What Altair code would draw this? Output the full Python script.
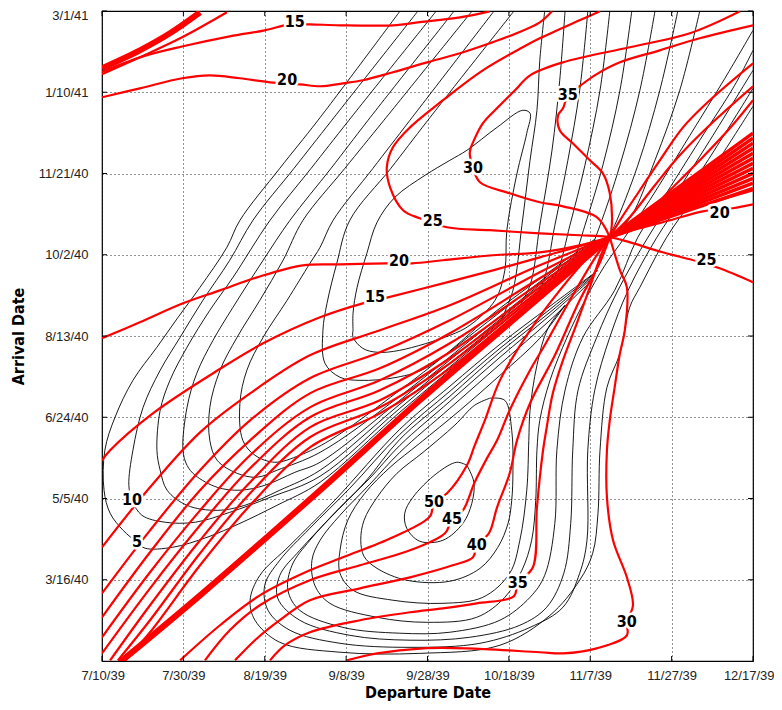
import json
import altair as alt
import pandas as pd

# ---------------- axis ticks (x: days from 7/10/39, y: days from 1/1/40) ----------------
X_TICKS = [0, 20, 40, 60, 80, 100, 120, 140, 160]
X_LABELS = ["7/10/39", "7/30/39", "8/19/39", "9/8/39", "9/28/39", "10/18/39", "11/7/39", "11/27/39", "12/17/39"]
Y_TICKS = [75, 125, 175, 225, 275, 325, 375, 425]
Y_LABELS = ["3/16/40", "5/5/40", "6/24/40", "8/13/40", "10/2/40", "11/21/40", "1/10/41", "3/1/41"]

F = [124.8, 285.8]  # singular point where the red contours meet

# ---------------- red contours ----------------
RED_TL_2 = [[0, 386.1], [9.3, 396.5], [19.7, 408.8], [30.7, 424.2]]
RED_15_TOP = [[0, 387.5], [10.1, 397.1], [19.9, 403.3], [31.4, 409.4], [40, 413.1], [46.2, 416.8], [51.1, 416.8],
              [58.5, 416.2], [71.5, 416.2], [78.1, 418.1], [88, 421.1], [95.3, 424.8]]
RED_20_TOP = [[0, 371.9], [9.3, 377.4], [19.7, 383.6], [26.5, 385.4], [33.9, 383.6], [41.3, 381.1], [48.6, 379.9],
              [53.6, 378.7], [59.2, 380.5], [64.1, 382.4], [71.5, 387.3], [79.9, 393.4], [88, 399], [95.3, 405.1],
              [101.9, 411.3], [107.6, 418], [110.6, 424.8]]
RED_25 = [[122.4, 424.8], [117.4, 419.3], [107.6, 408.2], [103.4, 402.7], [93.6, 388.5], [83.8, 370.1], [75.7, 353.4],
          [71.5, 341.1], [70, 328.8], [70.8, 316.5], [74, 302.4], [78.1, 297.4], [84.8, 291.9], [95.3, 290.1],
          [107.6, 288.2], [117.4, 287], F, [137.8, 276.5], [146.2, 271], [151.8, 266.7], [160, 258.1]]
RED_30 = [[156.8, 424.8], [144.5, 411.3], [129.7, 402.7], [113.3, 393.4], [105.2, 385.4], [101.5, 376.2], [97.8, 367],
          [93.6, 355.9], [91.4, 345.4], [90.4, 338.1], [91.2, 328.2], [92.9, 319.6], [100.2, 312.8], [107.6, 307.3],
          [113.3, 304.8], [121.6, 298.1], F]
RED_35 = [[160, 416.2], [146.9, 408.2], [137.1, 400.8], [127.3, 393.4], [121.1, 385.4], [117.4, 378.7], [114.5, 373.1],
          [113.3, 365.1], [112.1, 360.8], [112.5, 351.6], [115.7, 343.6], [119.9, 333.1], [123.1, 325.1],
          [124.8, 312.8], [125.3, 293.1], F]
RED_20 = [[0, 223.6], [9.3, 233.4], [19.9, 245.1], [29, 253.1], [38.1, 261.1], [49.4, 268.5], [58.5, 269.1], [70, 269.7],
          [76.2, 269.7], [83.8, 271.6], [96.1, 274.7], [107.6, 276.5], [117.4, 280.8], F, [132.2, 291.3],
          [139.6, 296.2], [147.7, 301.7], [155, 303.6], [160, 306]]
RED_15 = [[0, 148.5], [2, 154.7], [12.5, 177.4], [27.3, 202.1], [39.6, 220.5], [53.6, 236.5], [64.1, 245.1],
          [70.3, 248.8], [83.8, 257.4], [96.1, 265.4], [107.6, 273.4], F, [142, 301.1], [160, 314.7]]
RED_UP_A = [F, [127.3, 296.2], [132.2, 314.7], [137.1, 333.1], [142.8, 353.4], [149.4, 370.1], [160, 392.8]]
RED_UP_B = [F, [129.7, 298.1], [135.9, 317.8], [142, 336.2], [150.1, 356.5], [160, 378.7]]
RED_UP_C = [F, [132.2, 296.2], [139.6, 314.7], [146.9, 333.1], [154.3, 352.8], [160, 370.1]]
RED_U1 = [F, [107.6, 268.5], [85.5, 243.9], [68.3, 228.5], [51.1, 213.1], [36.4, 189.7], [24.1, 165.7], [11.8, 131.9], [0, 95]]
RED_U2 = [F, [107.6, 264.2], [85.5, 234.7], [68.3, 215], [51.1, 199], [36.4, 173.1], [24.1, 142.4], [11.8, 105.4], [0, 66.7]]
RED_U3 = [F, [107.6, 260.5], [85.5, 226.7], [68.3, 205.1], [51.1, 189.7], [36.4, 160.8], [24.1, 130.1], [11.8, 91.9], [0, 51.9]]
RED_U4 = [F, [107.6, 257.4], [85.5, 220.5], [68.3, 197.7], [51.1, 181.1], [36.4, 151.6], [24.1, 117.7], [11.8, 79.6], [0, 39.6]]
RED_U5 = [F, [107.6, 255], [85.5, 215], [68.3, 191.6], [51.1, 175], [36.4, 143.6], [24.1, 108.5], [11.8, 69.7], [0, 29.7]]
RED_U6 = [F, [107.6, 253.1], [85.5, 211.3], [68.3, 185.4], [51.1, 168.8], [36.4, 135], [24.1, 99.3], [11.8, 59.3], [2, 25.4]]
RED_U7 = [F, [107.6, 251.9], [85.5, 208.2], [68.3, 181.1], [51.1, 162.7], [36.4, 128.2], [24.1, 91.3], [11.8, 50.1], [3.9, 25.4]]
RED_U8 = [F, [107.6, 250.7], [85.5, 205.1], [68.3, 177.4], [51.1, 156.5], [36.4, 120.8], [24.1, 83.9], [11.8, 42.7], [5.7, 25.4]]
RED_50 = [F, [119.9, 274.7], [112.5, 253.1], [105.2, 228.5], [97.8, 197.7], [94.1, 173.1], [91.6, 157.7], [89.7, 145.4],
          [84.8, 128.2], [81.6, 122.7], [80.6, 114], [71.5, 101.1], [59.2, 88.8], [51.1, 80.8], [38.8, 65.4], [29, 47], [19.2, 25.4]]
RED_45 = [F, [121.1, 272.8], [115, 247], [108.8, 219.3], [105.2, 203.9], [100.2, 179.3], [97.1, 160.8], [94.6, 149.7],
          [91.6, 135], [88.7, 117.7], [86, 112.2], [84.3, 103.6], [75.7, 93.1], [63.4, 83.9], [51.1, 74.7], [38.8, 59.3],
          [31.4, 43.9], [25.3, 25.4]]
RED_40 = [F, [122.4, 270.4], [117.4, 247], [111.3, 213.1], [105.2, 183.6], [102, 160.8], [100.2, 140.5], [97.1, 119.6],
          [95.1, 103.6], [92.1, 96.2], [91.2, 88.8], [86.2, 83.9], [75.7, 76.5], [63.4, 69.7], [51.1, 62.4], [43.7, 50.1],
          [37.6, 37.8], [32.7, 25.4]]
RED_35_LOW = [F, [123.1, 277.7], [119.9, 255], [116.7, 232.8], [113.3, 210.1], [110.8, 189.7], [109.3, 168.8],
              [108.4, 154.7], [106.9, 119.6], [105.9, 82.7], [102.2, 72.8], [101.2, 64.8], [92.1, 60.5], [83.8, 57.4],
              [75.7, 55], [63.4, 50.1], [51.1, 42.7], [45, 34.7], [41.3, 25.4]]
RED_30_LOW = [F, [127.3, 265.4], [129, 255], [128.5, 228.5], [127.3, 214.4], [126, 193.4], [124.8, 173.1], [124.1, 154.7],
              [124.1, 125.7], [125.6, 99.3], [129, 76.5], [130.5, 59.3], [129, 48.8], [129, 40.8], [121.6, 32.8],
              [113.3, 29.7], [107.6, 30.4], [89.7, 32.8], [78.9, 32.8], [67.6, 29.7], [60.2, 25.4]]

RED_THICK_TL = [[0, 389.8], [9.3, 400.8], [16.7, 411.3], [24.1, 424.2]]
RED_THICK_BAND = [F, [107.6, 248.8], [78.1, 185.4], [53.6, 130.1], [24.1, 65.4], [4.4, 24.2]]
RED_WEDGE_END_Y = [349.8, 346.7, 343.6, 340.5, 337.5, 334.4, 331.3, 328.2, 325.1, 322.0, 319.0, 315.9]

# ---------------- black contours ----------------
BLK_A1 = [[73.2, 424.8], [53.1, 357.8], [43.7, 328.2], [33.9, 296.2], [30.7, 279.6], [24.1, 255], [18.7, 236.5],
          [13.5, 218.1], [7.6, 197.7], [3.2, 175], [0.7, 154.7], [0.5, 130.1], [2, 115.9], [5.2, 105.4], [8.6, 98.1],
          [10.6, 94.4], [17.4, 95], [25.8, 101.1], [33.9, 109.7], [43, 120.8], [53.6, 135], [73.2, 178.1],
          [97.8, 229.7], [121.1, 280.8]]
BLK_A2 = [[77.6, 424.8], [56.5, 357.8], [47.2, 328.2], [37.1, 296.2], [31.4, 271.6], [24.8, 247], [19.2, 224.2],
          [14.3, 203.9], [10.1, 181.1], [7.6, 154.7], [6.6, 133.1], [7.4, 123.9], [9.8, 114.7], [15.5, 110.4],
          [22.9, 110.4], [31.4, 116.5], [41.3, 125.7], [53.6, 138.7], [73.2, 180.5], [97.8, 231.6], [121.1, 281.4]]
BLK_A3 = [[82.1, 424.8], [60.7, 357.8], [51.4, 328.2], [41.3, 296.2], [32.2, 261.1], [26.5, 240.8], [20.9, 218.1],
          [16.7, 197.7], [14.3, 179.3], [13.5, 154.7], [14.3, 142.4], [16, 130.1], [20.9, 120.8], [28.3, 117.7],
          [35.1, 120.8], [43.7, 130.1], [53.6, 142.4], [73.2, 183], [97.8, 233.4], [121.1, 282.1]]
BLK_A4 = [[86.5, 424.8], [65.4, 357.8], [56.3, 328.2], [46.2, 296.2], [39.6, 271.6], [32.2, 242.7], [27.3, 222.4],
          [23.3, 202.1], [20.9, 181.1], [19.9, 154.7], [20.9, 145.4], [22.9, 139.3], [28.3, 131.9], [33.9, 130.1],
          [40, 133.1], [47.4, 141.1], [53.6, 147.3], [73.2, 185.4], [97.8, 235.3], [121.1, 282.7]]
BLK_A5 = [[90.9, 424.8], [69.3, 357.8], [59.7, 328.2], [49.4, 296.2], [44.5, 271.6], [38.8, 247], [33.2, 224.2],
          [29, 203.9], [26.5, 181.1], [26.5, 160.8], [28.3, 148.5], [33.2, 140.5], [38.1, 138.1], [43, 142.4],
          [53.6, 153.4], [73.2, 187.9], [97.8, 237.1], [121.1, 283.3]]
BLK_A6 = [[96.3, 424.8], [75.7, 357.8], [66.6, 328.2], [56.8, 296.2], [53.6, 279.6], [51.1, 269.7], [45.5, 247],
          [39.6, 224.2], [35.6, 203.9], [33.9, 183.6], [34.6, 160.8], [37.6, 151.6], [42.5, 147.3], [48.6, 151.6],
          [56, 160.8], [73.2, 191.6], [97.8, 239.6], [121.1, 283.9]]
BLK_A7 = [[101.2, 424.8], [80.1, 357.8], [71, 328.2], [60.9, 296.2], [57.7, 269.7], [55.3, 245.1], [54.3, 228.5],
          [54.8, 208.2], [58.5, 199.6], [63.4, 197.7], [72.5, 199.6], [79.9, 205.7], [97.8, 242.1], [121.1, 284.5]]
BLK_A8 = [[61.7, 228.5], [61.7, 239], [62.7, 255], [65.1, 275.9], [67.6, 295], [72, 310.4], [79.4, 323.9], [85.5, 333.1],
          [89.7, 339.3], [97.1, 353.4], [103.4, 363.9], [105.2, 362.1], [104.4, 349.8], [102, 325.1], [99.5, 290.1],
          [99, 265.4], [96.6, 247], [90.4, 231.6], [85.5, 225.4], [73.2, 216.2], [67.6, 215], [64.1, 217.4],
          [61.7, 224.2], [61.7, 228.5]]
BLK_E1 = [[108.8, 424.8], [107.6, 394.7], [106.9, 363.9], [105.2, 333.1], [103.2, 293.1], [101, 253.1], [97.8, 233.4]]
BLK_E2 = [[113.8, 424.8], [112.5, 382.4], [110.6, 339.3], [107.6, 293.1], [105.2, 256.2], [101.5, 239]]
BLK_E3 = [[119.4, 424.8], [117.4, 376.2], [114.5, 333.1], [111.3, 293.1], [108.4, 258.1], [105.6, 247]]
BLK_E4 = [[124.8, 424.8], [122.4, 376.2], [118.7, 330.1], [115, 293.1], [112.1, 265.4], [110.1, 256.2]]
BLK_E5 = [[130.2, 424.8], [127.3, 376.2], [123.1, 330.1], [118.7, 293.1], [115.7, 270.4], [114.3, 265.4]]
BLK_E6 = [[135.9, 424.8], [132.2, 376.2], [127.3, 330.1], [122.4, 293.1], [119.9, 277.7], [118.7, 274.1]]
BLK_E7 = [[141.5, 424.8], [137.1, 376.2], [131.7, 330.1], [126, 293.1], [124.1, 283.9]]
BLK_E8 = [[146.9, 424.8], [142, 376.2], [135.9, 333.1], [130.2, 299.3], [126, 287]]
BLK_B0 = [[89.7, 145.4], [91.4, 135], [90.9, 122.1], [88.7, 109.7], [83.8, 99.3], [78.1, 98.7], [74.9, 106.7],
          [74.4, 115.9], [76.4, 125.7], [82.3, 140.5], [87.2, 147.3], [89.7, 145.4]]
BLK_B1 = [[95.3, 186.7], [99, 185.4], [100.7, 167], [101, 142.4], [100.7, 123.9], [99.8, 109.7], [97.3, 95], [92.9, 82],
          [85.5, 74.1], [74.9, 74.7], [67.6, 82], [64.4, 89.4], [63.6, 99.3], [64.4, 111.6], [67.6, 125.7],
          [72.5, 140.5], [78.9, 153.4], [86.7, 170.1], [91.6, 182.4], [95.3, 186.7]]
BLK_B2 = [[113.8, 243.9], [109.6, 229.7], [106.9, 207], [105.2, 179.3], [104.9, 160.8], [104.4, 130.1], [102.7, 99.3],
          [100.2, 79], [93.6, 64.2], [83.8, 60.5], [71.5, 62.4], [61.7, 68.5], [58.5, 79], [58.5, 93.1], [60.4, 111.6],
          [64.6, 128.2], [70.8, 144.2], [78.1, 159], [88, 179.3], [97.8, 200.8], [107.6, 223.6], [113.8, 243.9]]
BLK_B3 = [[160, 413.1], [153.1, 383.6], [144.5, 348.5], [134.6, 308.5], [128.5, 285.8], [123.6, 268.5], [118.7, 247],
          [114.3, 224.2], [110.1, 197.7], [107.6, 173.1], [106.9, 154.7], [106.6, 123.9], [105.6, 99.3], [103.2, 80.8],
          [99, 64.2], [92.1, 51.9], [79.9, 48.8], [67.6, 51.9], [56, 60.5], [52.3, 71.6], [51.6, 87], [53.6, 99.3],
          [58.5, 114.7], [65.8, 133.7], [73.2, 153.4], [85.5, 180.5], [97.8, 207.6], [110.1, 234.7], [119.9, 258.1]]
BLK_B4 = [[160, 400.8], [155.5, 379.3], [146.9, 345.4], [137.6, 308.5], [131.7, 285.8], [126, 253.1], [118.2, 224.2],
          [113.8, 191.6], [111.8, 154.7], [111.3, 109.7], [108.8, 77.7], [105.2, 64.2], [97.8, 50.1], [85.5, 42.7],
          [73.2, 42.1], [59.2, 45.7], [48.6, 56.2], [45.7, 68.5], [46.7, 83.9], [51.1, 99.3], [58.5, 119.6],
          [65.8, 137.4], [73.2, 157.7], [85.5, 184.8], [97.8, 211.9], [110.1, 237.7], [120.4, 260.5]]
BLK_B5 = [[160, 388.5], [149.4, 345.4], [140, 308.5], [134.2, 285.8], [126.8, 253.1], [121.6, 224.2], [117, 191.6],
          [115.7, 154.7], [115.2, 109.7], [113.5, 79], [109.3, 58.1], [102.7, 47], [90.4, 39.6], [75.7, 37.8],
          [60.9, 40.8], [48.6, 50.1], [43.2, 63.6], [43.7, 77.7], [48.6, 93.1], [56, 112.8], [64.6, 135], [73.2, 161.4],
          [85.5, 187.9], [97.8, 215], [110.1, 239.6], [120.9, 262.4]]
BLK_B6 = [[160, 377.4], [151.3, 342.4], [142.5, 308.5], [136.4, 285.8], [129.3, 253.1], [124.8, 224.2], [121.1, 191.6],
          [119.4, 154.7], [119.2, 99.3], [117.4, 79], [113.3, 58.1], [105.2, 45.7], [92.9, 35.9], [75.7, 33.4],
          [58.5, 35.9], [46.2, 43.9], [40.8, 56.2], [40, 71.6], [43.7, 87], [51.1, 106.7], [60.9, 131.3], [73.2, 164.5],
          [85.5, 191], [97.8, 217.4], [110.1, 241.4], [121.4, 264.2]]
BLK_B7 = [[160, 366.4], [153.1, 339.3], [145, 308.5], [138.8, 285.8], [132.2, 255], [129.7, 242.7], [127.3, 214.4],
          [124.1, 193.4], [122.4, 154.7], [121.9, 115.9], [120.6, 91.3], [117.4, 74.7], [110.1, 53.1], [97.8, 34.7],
          [78.1, 29.7], [58.5, 30.4], [43.7, 36.5], [37.6, 50.1], [36.4, 62.4], [38.8, 77.7], [46.2, 96.2],
          [57.2, 123.9], [73.2, 167.6], [85.5, 194.1], [97.8, 219.9], [110.1, 243.3], [121.9, 265.4]]

# ---------------- contour labels ----------------
LABEL_TEXT = ["15", "20", "35", "30", "25", "20", "15", "20", "25", "50", "45", "40", "35", "30", "10", "5"]
LABEL_X = [47.4, 45.5, 114.5, 91.2, 81.3, 73.0, 67.1, 151.8, 148.6, 81.6, 86.0, 92.1, 102.2, 129.0, 7.4, 8.6]
LABEL_Y = [418.1, 382.4, 373.1, 328.2, 295.6, 271.0, 248.8, 300.5, 271.6, 122.7, 112.2, 96.2, 72.8, 48.8, 123.9, 98.1]

# ---------------- assemble ----------------
red_normal = {
    "tl2": RED_TL_2, "r15top": RED_15_TOP, "r20top": RED_20_TOP, "r25": RED_25, "r30": RED_30, "r35": RED_35,
    "r20": RED_20, "r15": RED_15, "ua": RED_UP_A, "ub": RED_UP_B, "uc": RED_UP_C,
    "u1": RED_U1, "u2": RED_U2, "u3": RED_U3, "u4": RED_U4, "u5": RED_U5, "u6": RED_U6, "u7": RED_U7, "u8": RED_U8,
    "r50": RED_50, "r45": RED_45, "r40": RED_40, "r35l": RED_35_LOW, "r30l": RED_30_LOW,
}
red_thick = {"tlthick": RED_THICK_TL, "band": RED_THICK_BAND}
red_wedge = {f"w{i}": [F, [160, y]] for i, y in enumerate(RED_WEDGE_END_Y)}
black = {
    "a1": BLK_A1, "a2": BLK_A2, "a3": BLK_A3, "a4": BLK_A4, "a5": BLK_A5, "a6": BLK_A6, "a7": BLK_A7, "a8": BLK_A8,
    "e1": BLK_E1, "e2": BLK_E2, "e3": BLK_E3, "e4": BLK_E4, "e5": BLK_E5, "e6": BLK_E6, "e7": BLK_E7, "e8": BLK_E8,
    "b0": BLK_B0, "b1": BLK_B1, "b2": BLK_B2, "b3": BLK_B3, "b4": BLK_B4, "b5": BLK_B5, "b6": BLK_B6, "b7": BLK_B7,
}

rows = []
for style, group in [("black", black), ("red", red_normal), ("thick", red_thick), ("wedge", red_wedge)]:
    for name, pts in group.items():
        for i, (x, y) in enumerate(pts):
            rows.append({"style": style, "line": f"{style}_{name}", "i": i, "x": x, "y": y})
df = pd.DataFrame(rows)
labels = pd.DataFrame({"text": LABEL_TEXT, "x": LABEL_X, "y": LABEL_Y})

W, H = 651, 650
LABEL_FONT = "Liberation Sans, Arial, Helvetica, sans-serif"
TITLE_FONT = "DejaVu Sans Condensed, Liberation Sans, sans-serif"

xscale = alt.Scale(domain=[0, 160], nice=False, zero=False)
yscale = alt.Scale(domain=[25, 425], nice=False, zero=False)
xaxis = alt.Axis(values=X_TICKS, labelExpr=f"{json.dumps(X_LABELS)}[round(datum.value / 20)]",
                 grid=True, gridColor="black", gridDash=[1, 3], gridOpacity=0.85, gridWidth=1,
                 ticks=False, domain=False, labelFont=LABEL_FONT, labelFontSize=13, labelColor="#222",
                 labelPadding=8, labelOverlap=False, labelFlush=True, labelFlushOffset=21,
                 title="Departure Date", titleFont=TITLE_FONT,
                 titleFontSize=16, titleFontWeight="bold", titleColor="black", titlePadding=2)
yaxis = alt.Axis(values=Y_TICKS, labelExpr=f"{json.dumps(Y_LABELS)}[round((datum.value - 75) / 50)]",
                 grid=True, gridColor="black", gridDash=[1, 3], gridOpacity=0.85, gridWidth=1,
                 ticks=False, domain=False, labelFont=LABEL_FONT, labelFontSize=13, labelColor="#222",
                 labelPadding=14, labelOverlap=False, labelFlush=True, labelFlushOffset=2,
                 title="Arrival Date", titleFont=TITLE_FONT,
                 titleFontSize=16, titleFontWeight="bold", titleColor="black",
                 titleX=-84, titleY=H / 2, titleAngle=-90, titleAlign="center", titleBaseline="middle")


def X(f):
    return alt.X(f, type="quantitative", scale=xscale, axis=xaxis)


def Y(f):
    return alt.Y(f, type="quantitative", scale=yscale, axis=yaxis)


base = alt.Chart(df).encode(x=X("x"), y=Y("y"), detail="line:N", order="i:Q")

black_layer = base.transform_filter(alt.datum.style == "black").mark_line(
    color="black", strokeWidth=0.9, interpolate="catmull-rom", clip=True)
red_layer = base.transform_filter(alt.datum.style == "red").mark_line(
    color="#ff0000", strokeWidth=2.2, interpolate="catmull-rom", clip=True)
wedge_layer = base.transform_filter(alt.datum.style == "wedge").mark_line(
    color="#ff0000", strokeWidth=3.5, clip=True)
thick_layer = base.transform_filter(alt.datum.style == "thick").mark_line(
    color="#ff0000", strokeWidth=6, interpolate="catmull-rom", clip=True)

xt = pd.DataFrame({"t": X_TICKS})
yt = pd.DataFrame({"t": Y_TICKS})
tick_b = alt.Chart(xt).mark_rule(color="black").encode(x=X("t"), y=alt.value(H), y2=alt.value(H - 5))
tick_t = alt.Chart(xt).mark_rule(color="black").encode(x=X("t"), y=alt.value(0), y2=alt.value(5))
tick_l = alt.Chart(yt).mark_rule(color="black").encode(y=Y("t"), x=alt.value(0), x2=alt.value(5))
tick_r = alt.Chart(yt).mark_rule(color="black").encode(y=Y("t"), x=alt.value(W), x2=alt.value(W - 5))

lab = alt.Chart(labels).encode(x=X("x"), y=Y("y"), text="text:N")
halo = lab.mark_text(font=TITLE_FONT, fontSize=16, fontWeight="bold", color="white", stroke="white",
                     strokeWidth=5, align="center", baseline="middle")
txt = lab.mark_text(font=TITLE_FONT, fontSize=16, fontWeight="bold", color="black", align="center",
                    baseline="middle")

chart = alt.layer(
    black_layer, red_layer, wedge_layer, thick_layer, tick_b, tick_t, tick_l, tick_r, halo, txt
).properties(
    width=W, height=H, autosize="none",
    padding={"left": 94, "top": 3, "right": 21, "bottom": 40},
).configure_view(stroke="black", strokeWidth=1.2)

chart.save("out.html", embed_options={"renderer": "svg", "actions": False})
